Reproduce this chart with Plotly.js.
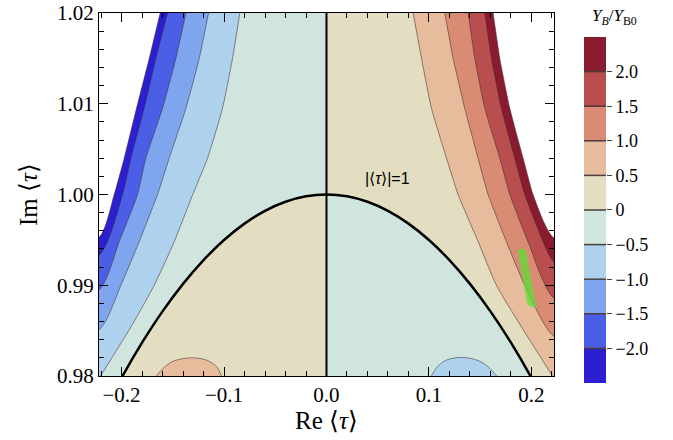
<!DOCTYPE html>
<html>
<head>
<meta charset="utf-8">
<script src="https://cdn.plot.ly/plotly-3.0.1.min.js"></script>
<style>html,body{margin:0;padding:0;background:#fff;}#chart{width:673px;height:440px;}</style>
</head>
<body>
<div id="chart"></div>
<script>
// ---------- data ----------
const levels = [-2.5, -2.0, -1.5, -1.0, -0.5, 0, 0.5, 1.0, 1.5, 2.0, 2.5];
const bandColors = ['#2b1fd1', '#4a5fe6', '#7fa5ef', '#aed1ee', '#d1e5df',
                    '#e3dec2', '#e6bc9c', '#d98b74', '#b94e4f', '#8a1a2e'];
const cbTickVals = [-2.0, -1.5, -1.0, -0.5, 0, 0.5, 1.0, 1.5, 2.0];
const cbTickText = ['\u22122.0', '\u22121.5', '\u22121.0', '\u22120.5', '0', '0.5', '1.0', '1.5', '2.0'];

// left contour lines (Re<0, above |tau|=1)
const lm25X = [-0.1623, -0.1730, -0.1854, -0.1974, -0.2072, -0.2220];
const lm25Y = [1.0200, 1.0150, 1.0095, 1.0040, 1.0000, 0.9953];
const lm20X = [-0.1551, -0.1665, -0.1779, -0.1909, -0.1990, -0.2220];
const lm20Y = [1.0200, 1.0150, 1.0095, 1.0040, 1.0000, 0.9933];
const lm15X = [-0.1372, -0.1470, -0.1600, -0.1763, -0.1844, -0.2023, -0.2220];
const lm15Y = [1.0200, 1.0150, 1.0095, 1.0040, 1.0000, 0.9948, 0.9895];
const lm10X = [-0.1151, -0.1242, -0.1372, -0.1535, -0.1649, -0.1828, -0.2007, -0.2220];
const lm10Y = [1.0200, 1.0150, 1.0095, 1.0040, 1.0000, 0.9948, 0.9900, 0.9851];
const lm05X = [-0.0846, -0.0917, -0.1015, -0.1161, -0.1305, -0.1486, -0.1681, -0.1893, -0.2205];
const lm05Y = [1.0200, 1.0150, 1.0095, 1.0040, 1.0000, 0.9948, 0.9900, 0.9857, 0.9800];

// right contour lines (Re>0, above |tau|=1)
const rp05X = [0.0845, 0.0927, 0.1024, 0.1171, 0.1284, 0.1480, 0.1658, 0.1886, 0.2205];
const rp05Y = [1.0200, 1.0150, 1.0095, 1.0040, 1.0000, 0.9948, 0.9900, 0.9857, 0.9800];
const rp10X = [0.1154, 0.1236, 0.1349, 0.1479, 0.1577, 0.1756, 0.1935, 0.2220];
const rp10Y = [1.0200, 1.0150, 1.0095, 1.0040, 1.0000, 0.9948, 0.9900, 0.9844];
const rp15X = [0.1382, 0.1447, 0.1545, 0.1691, 0.1789, 0.1967, 0.2220];
const rp15Y = [1.0200, 1.0150, 1.0095, 1.0040, 1.0000, 0.9948, 0.9886];
const rp20X = [0.1545, 0.1610, 0.1707, 0.1837, 0.1935, 0.2114, 0.2220];
const rp20Y = [1.0200, 1.0150, 1.0095, 1.0040, 1.0000, 0.9948, 0.9926];
const rp25X = [0.1626, 0.1691, 0.1789, 0.1919, 0.2016, 0.2220];
const rp25Y = [1.0200, 1.0150, 1.0095, 1.0040, 1.0000, 0.9952];

// |<tau>| = 1 curve
const circX = [-0.22, -0.20, -0.18, -0.16, -0.14, -0.12, -0.10, -0.08, -0.06, -0.04, -0.02, 0.00,
               0.02, 0.04, 0.06, 0.08, 0.10, 0.12, 0.14, 0.16, 0.18, 0.20, 0.22];
const circY = [0.97550, 0.97980, 0.98367, 0.98712, 0.99015, 0.99277, 0.99499, 0.99679, 0.99820, 0.99920, 0.99980, 1.00000,
               0.99980, 0.99920, 0.99820, 0.99679, 0.99499, 0.99277, 0.99015, 0.98712, 0.98367, 0.97980, 0.97550];

// small closed regions at the bottom
const bumpLX = [-0.166, -0.158, -0.148, -0.132, -0.117, -0.107, -0.1024];
const bumpLY = [0.9800, 0.9810, 0.98170, 0.98200, 0.98175, 0.9810, 0.9800];
const bumpRX = [0.1024, 0.108, 0.117, 0.132, 0.148, 0.158, 0.166];
const bumpRY = [0.9800, 0.9810, 0.98175, 0.98205, 0.98170, 0.9810, 0.9800];

// green region
const greenX = [0.1863, 0.1944, 0.2049, 0.1961];
const greenY = [0.99396, 0.99396, 0.98746, 0.98782];

// label
const curveLabel = {x: 0.0598, y: 1.0018, text: '|\u27e8<i>\u03c4</i>\u27e9|=1'};

// ---------- build ----------
const xRange = [-0.222, 0.222];
const yRange = [0.98, 1.02];
const serif = 'Liberation Serif, Times New Roman, serif';
const stroke = 'rgba(60,45,45,0.55)';
const traces = [];

function band(xs, ys, color, side) {
  const x = xs.slice(), y = ys.slice();
  const lastY = y[y.length - 1];
  const far = side * 0.4;
  if (lastY > yRange[0] + 1e-9) { x.push(far, far); y.push(lastY, yRange[0] - 0.01); }
  traces.push({x: x, y: y, mode: 'lines', fill: 'tozerox', fillcolor: color,
    line: {color: stroke, width: 1, shape: 'spline', smoothing: 0.5},
    hoverinfo: 'skip', showlegend: false, xaxis: 'x', yaxis: 'y'});
}
band(lm25X, lm25Y, bandColors[0], -1);
band(lm20X, lm20Y, bandColors[1], -1);
band(lm15X, lm15Y, bandColors[2], -1);
band(lm10X, lm10Y, bandColors[3], -1);
band(lm05X, lm05Y, bandColors[4], -1);
band(rp25X, rp25Y, bandColors[9], 1);
band(rp20X, rp20Y, bandColors[8], 1);
band(rp15X, rp15Y, bandColors[7], 1);
band(rp10X, rp10Y, bandColors[6], 1);
band(rp05X, rp05Y, bandColors[5], 1);

const li = circX.map((v, i) => i).filter(i => circX[i] <= 0);
const ri = circX.map((v, i) => i).filter(i => circX[i] >= 0);
traces.push({x: li.map(i => circX[i]), y: li.map(i => circY[i]), mode: 'lines', fill: 'tozeroy',
  fillcolor: bandColors[5], line: {width: 0, shape: 'spline'}, hoverinfo: 'skip', showlegend: false});
traces.push({x: ri.map(i => circX[i]), y: ri.map(i => circY[i]), mode: 'lines', fill: 'tozeroy',
  fillcolor: bandColors[4], line: {width: 0, shape: 'spline'}, hoverinfo: 'skip', showlegend: false});

traces.push({x: bumpLX, y: bumpLY, mode: 'lines', fill: 'toself', fillcolor: bandColors[6],
  line: {color: stroke, width: 1, shape: 'spline', smoothing: 1}, hoverinfo: 'skip', showlegend: false});
traces.push({x: bumpRX, y: bumpRY, mode: 'lines', fill: 'toself', fillcolor: bandColors[3],
  line: {color: stroke, width: 1, shape: 'spline', smoothing: 1}, hoverinfo: 'skip', showlegend: false});

traces.push({x: greenX, y: greenY, mode: 'lines', fill: 'toself', fillcolor: 'rgba(90,225,50,0.72)',
  line: {width: 0}, hoverinfo: 'skip', showlegend: false});

traces.push({x: circX, y: circY, mode: 'lines', line: {color: '#000', width: 2.5, shape: 'spline'},
  hoverinfo: 'skip', showlegend: false});
traces.push({x: [0, 0], y: yRange, mode: 'lines', line: {color: '#000', width: 2},
  hoverinfo: 'skip', showlegend: false});

const nb = levels.length - 1;
traces.push({type: 'bar', x: Array(nb).fill(0), y: levels.slice(1).map((v, i) => v - levels[i]),
  base: levels.slice(0, -1), width: 1, marker: {color: bandColors, line: {width: 0}},
  xaxis: 'x2', yaxis: 'y2', hoverinfo: 'skip', showlegend: false});
const sx = [], sy = [];
levels.slice(1, -1).forEach(v => { sx.push(-0.5, 0.5, null); sy.push(v, v, null); });
traces.push({x: sx, y: sy, mode: 'lines', line: {color: '#4a3c3c', width: 1.5},
  xaxis: 'x2', yaxis: 'y2', hoverinfo: 'skip', showlegend: false});

const layout = {
  width: 673, height: 440,
  margin: {l: 99, r: 50, t: 13, b: 50},
  paper_bgcolor: '#fff', plot_bgcolor: '#fff',
  showlegend: false, barmode: 'overlay',
  font: {family: serif, color: '#000'},
  xaxis: {
    domain: [0, 0.8683], range: xRange, tick0: 0, dtick: 0.1, tickformat: '.1f',
    ticks: 'inside', ticklen: 9, tickwidth: 1, tickcolor: '#000',
    minor: {tick0: 0, dtick: 0.02, ticks: 'inside', ticklen: 5, tickwidth: 1, tickcolor: '#000'},
    showline: true, linecolor: '#000', linewidth: 1, mirror: 'allticks',
    showgrid: false, zeroline: false, tickfont: {size: 21, family: serif},
    title: {text: 'Re \u27e8<i>\u03c4</i>\u27e9', font: {size: 25, family: serif}, standoff: 3}
  },
  yaxis: {
    domain: [0.0371, 1], range: yRange, tick0: 0.98, dtick: 0.01, tickformat: '.2f',
    ticks: 'inside', ticklen: 9, tickwidth: 1, tickcolor: '#000',
    minor: {tick0: 0.98, dtick: 0.002, ticks: 'inside', ticklen: 5, tickwidth: 1, tickcolor: '#000'},
    showline: true, linecolor: '#000', linewidth: 1, mirror: 'allticks',
    showgrid: false, zeroline: false, tickfont: {size: 21, family: serif},
    title: {text: 'Im \u27e8<i>\u03c4</i>\u27e9', font: {size: 25, family: serif}, standoff: 12}
  },
  xaxis2: {domain: [0.9256, 0.9676], range: [-0.5, 0.5], visible: false, anchor: 'y2', fixedrange: true},
  yaxis2: {
    domain: [0.01857, 0.93634], range: [-2.5, 2.5], anchor: 'x2', side: 'right',
    tickmode: 'array', tickvals: cbTickVals, ticktext: cbTickText,
    ticks: 'outside', ticklen: 5, tickwidth: 1, tickcolor: '#4a3c3c',
    showline: false, showgrid: false, zeroline: false, tickfont: {size: 18, family: serif}
  },
  annotations: [
    {xref: 'x', yref: 'y', x: curveLabel.x, y: curveLabel.y, text: curveLabel.text, showarrow: false,
     font: {family: 'Liberation Sans, Arial, sans-serif', size: 16, color: '#000'}},
    {xref: 'paper', yref: 'paper', x: 0.9847, y: 0.9894, xanchor: 'center', yanchor: 'middle', showarrow: false,
     text: '<i>Y</i><sub><i>B</i></sub>/<i>Y</i><sub>B0</sub>', font: {family: serif, size: 17, color: '#000'}}
  ]
};

Plotly.newPlot('chart', traces, layout, {staticPlot: true, displayModeBar: false});
</script>
</body>
</html>
